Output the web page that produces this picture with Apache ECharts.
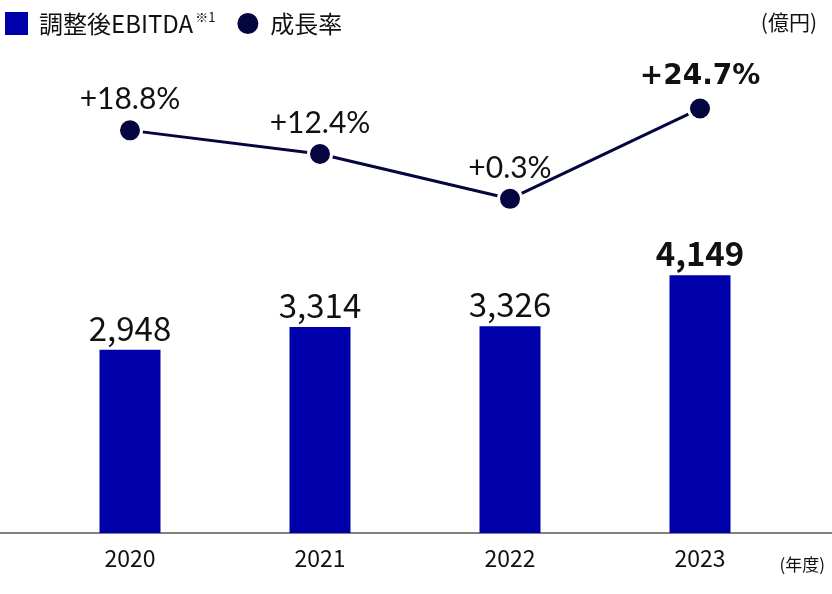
<!DOCTYPE html>
<html>
<head>
<meta charset="utf-8">
<script src="https://cdn.jsdelivr.net/npm/echarts@6/dist/echarts.min.js"></script>
<style>
  html, body { margin: 0; padding: 0; background: #fff; }
  #chart { width: 832px; height: 594px; }
</style>
</head>
<body>
<div id="chart"></div>
<script>
const years = ["2020", "2021", "2022", "2023"];
const ebitda = [2948, 3314, 3326, 4149];
const growth = [18.8, 12.4, 0.3, 24.7];

const BAR_COLOR = "#0000aa";
const LINE_COLOR = "#05053f";
const JP_FONT = "'Noto Sans CJK JP', 'Noto Sans', sans-serif";
const PCT_FONT = "Lato, 'Noto Sans', sans-serif";

const chart = echarts.init(document.getElementById("chart"));

const lastIdx = years.length - 1;

const option = {
    animation: false,
    backgroundColor: "#fff",
    title: [
        {
            text: "(億円)",
            right: 10,
            top: 7,
            textStyle: { fontFamily: JP_FONT, fontSize: 21, fontWeight: "normal", color: "#111" }
        },
        {
            text: "(年度)",
            right: 2,
            top: 551,
            textStyle: { fontFamily: JP_FONT, fontSize: 17, fontWeight: "normal", color: "#111" }
        }
    ],
    legend: {
        left: 0,
        top: 6,
        itemWidth: 23,
        itemHeight: 23,
        itemGap: 20,
        data: [
            { name: "調整後EBITDA", icon: "rect" },
            { name: "成長率", icon: "circle" }
        ],
        formatter: function (name) {
            return name === "調整後EBITDA" ? "{t|" + name + "}{sup|※1}" : "{t|" + name + "}";
        },
        textStyle: {
            fontFamily: JP_FONT,
            fontSize: 24,
            color: "#111",
            rich: {
                t: { fontFamily: JP_FONT, fontSize: 24, color: "#111", padding: [0, 0, 0, 6] },
                sup: { fontFamily: JP_FONT, fontSize: 13, color: "#111", verticalAlign: "top", padding: [0, 0, 12, 2] }
            }
        }
    },
    grid: [
        { left: 35, right: 37, top: 36, bottom: 61 },
        { left: 0, right: 0, top: 36, bottom: 61 }
    ],
    xAxis: [
        {
            type: "category",
            gridIndex: 0,
            data: years,
            axisLine: { show: false },
            axisTick: { show: false },
            axisLabel: { fontFamily: JP_FONT, fontSize: 23, color: "#111", margin: 14 }
        },
        {
            type: "value",
            gridIndex: 1,
            axisLine: { show: true, onZero: false, lineStyle: { color: "#808080", width: 2 } },
            axisTick: { show: false },
            axisLabel: { show: false },
            splitLine: { show: false }
        }
    ],
    yAxis: [
        { type: "value", gridIndex: 0, min: 0, max: 8000, show: false },
        { type: "value", gridIndex: 0, min: -90, max: 44.3, show: false },
        { type: "value", gridIndex: 1, show: false }
    ],
    series: [
        {
            name: "調整後EBITDA",
            type: "bar",
            xAxisIndex: 0,
            yAxisIndex: 0,
            barWidth: 61,
            itemStyle: { color: BAR_COLOR },
            data: ebitda.map(function (v, i) {
                return {
                    value: v,
                    label: { fontWeight: i === lastIdx ? "bold" : "normal" }
                };
            }),
            label: {
                show: true,
                position: "top",
                distance: 5,
                fontFamily: JP_FONT,
                fontSize: 33,
                color: "#111",
                formatter: function (p) {
                    return p.value.toLocaleString("en-US");
                }
            }
        },
        {
            name: "成長率",
            type: "line",
            xAxisIndex: 0,
            yAxisIndex: 1,
            symbol: "circle",
            symbolSize: 23,
            lineStyle: { color: LINE_COLOR, width: 3 },
            itemStyle: { color: LINE_COLOR, borderColor: "#fff", borderWidth: 3 },
            data: growth.map(function (v, i) {
                const last = i === lastIdx;
                return {
                    value: v,
                    label: {
                        fontFamily: last ? "'DejaVu Sans', sans-serif" : PCT_FONT,
                        fontWeight: last ? "bold" : "normal",
                        fontSize: last ? 28 : 30,
                        distance: last ? 5 : 3
                    }
                };
            }),
            label: {
                show: true,
                position: "top",
                distance: 3,
                color: "#111",
                formatter: function (p) {
                    return "+" + p.value.toFixed(1) + "%";
                }
            }
        }
    ]
};

chart.setOption(option);
</script>
</body>
</html>
